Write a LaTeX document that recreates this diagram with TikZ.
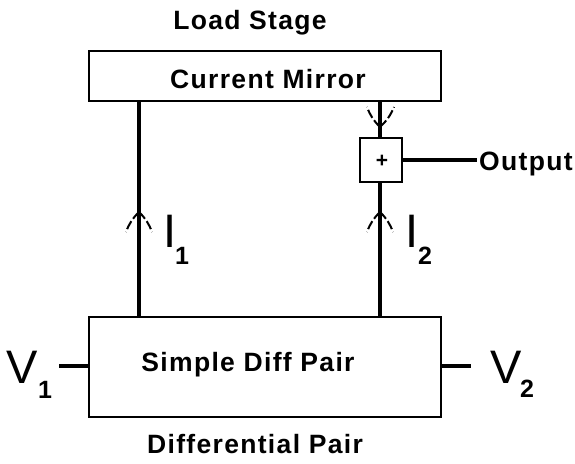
\documentclass[tikz,border=0pt]{standalone}
\usepackage{fontspec}
\setmainfont{Liberation Sans}
\newfontfamily\lblfont[LetterSpace=5]{Liberation Sans Bold}
\newfontfamily\symfont{Liberation Sans}
\newfontfamily\subfont{Liberation Sans Bold}
\begin{document}
\begin{tikzpicture}[x=1pt,y=1pt,
  blk/.style={draw, line width=2.8pt, inner sep=0pt},
  wire/.style={line width=3.8pt},
  owire/.style={line width=3.2pt},
  lbl/.style={inner sep=0pt, font=\lblfont\fontsize{26.5}{26.5}\selectfont},
  big/.style={inner sep=0pt, anchor=base, font=\symfont\fontsize{47}{47}\selectfont},
  sub/.style={inner sep=0pt, anchor=base, font=\subfont\fontsize{25}{25}\selectfont},
  wing/.style={line width=2pt, dash pattern=on 9pt off 3pt}]
\useasboundingbox (0,0) rectangle (575,463);
% blocks
\node[blk, minimum width=352pt, minimum height=50pt] (cm) at (265,387) {};
\node[blk, minimum width=352pt, minimum height=100pt] (dp) at (265,96) {};
\node[draw, line width=2.2pt, inner sep=0pt, minimum width=42pt, minimum height=44pt] (sum) at (381,303) {};
% texts
\node[lbl, anchor=base] (ls) at (250,433) {Load Stage};
\node[lbl, anchor=base] (cmt) at (268,374) {Current Mirror};
\node[lbl, anchor=base] (sdp) at (248,92) {Simple Diff Pair};
\node[lbl, anchor=base] (dpt) at (255,10) {Differential Pair};
\node[lbl, anchor=base west] (out) at (479,292) {Output};
\node[inner sep=0pt, font=\subfont\fontsize{21}{21}\selectfont] (plus) at (382,302) {+};
% coordinates
\coordinate (l) at (139,0);
\coordinate (r) at (380,0);
\coordinate (oend) at (477,303);
\coordinate (v1end) at (59,97);
\coordinate (v2end) at (471,97);
% wires
\draw[wire] (cm.south -| l) -- (dp.north -| l);
\draw[wire] (cm.south -| r) -- (sum.north -| r);
\draw[wire] (sum.south -| r) -- (dp.north -| r);
\draw[owire] (sum.east) -- (oend);
\draw[wire] (v1end) -- (v1end -| dp.west);
\draw[wire] (dp.east |- v2end) -- (v2end);
% arrow heads (dashed)
\coordinate (t1) at (139,251);
\coordinate (t2) at (380,251);
\coordinate (t3) at (380,336);
\draw[wing] (t1) to[bend right=12] (126,231);
\draw[wing] (t1) to[bend left=12] (152,231);
\draw[wing] (t2) to[bend right=12] (367,231);
\draw[wing] (t2) to[bend left=12] (393,231);
\draw[wing] (t3) to[bend left=12] (367,356);
\draw[wing] (t3) to[bend right=12] (394,356);
% current and voltage labels
\node[big] (i1) at (170,215) {I};
\node[sub] (i1s) at (182,198) {1};
\node[big] (i2) at (412,215) {I};
\node[sub] (i2s) at (425,198) {2};
\node[big] (v1) at (22,80) {V};
\node[sub] (v1s) at (45,65) {1};
\node[big] (v2) at (506,80) {V};
\node[sub] (v2s) at (527,66) {2};
\end{tikzpicture}
\end{document}
